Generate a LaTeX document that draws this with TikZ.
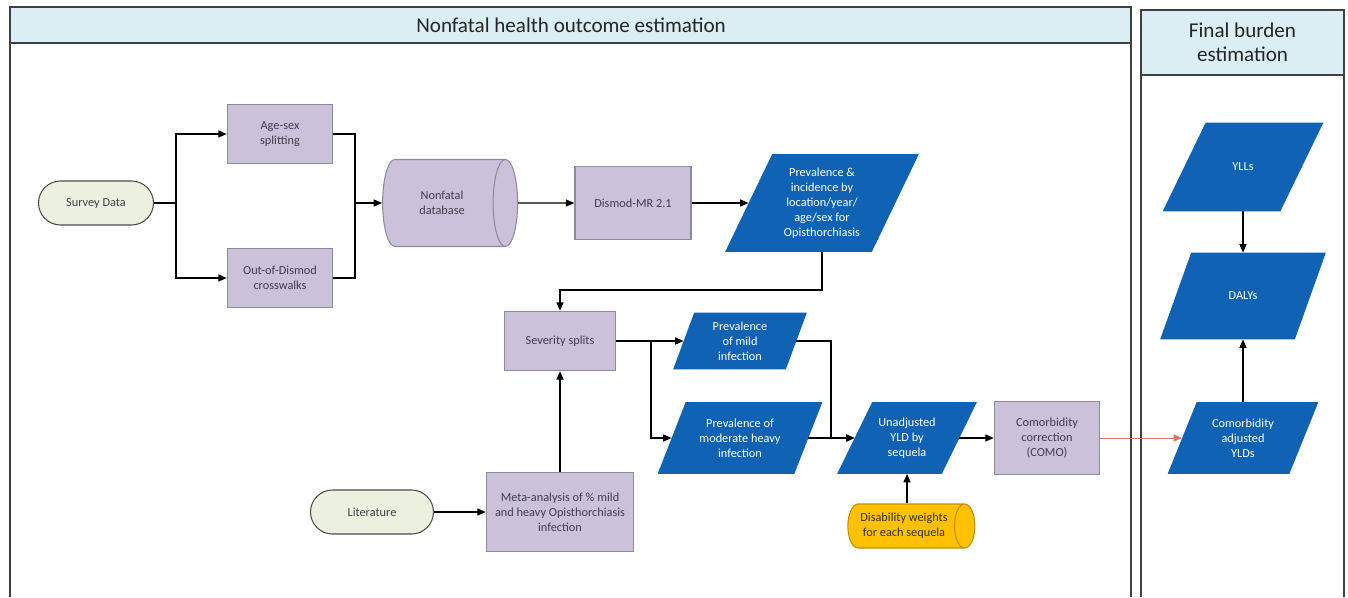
\documentclass[tikz,border=0pt]{standalone}
\usepackage{fontspec}
\setmainfont{Carlito}
\usetikzlibrary{arrows.meta,backgrounds,calc,positioning,shapes.geometric}
\definecolor{gbink}{HTML}{3F3F4C}
\definecolor{gbhead}{HTML}{DAEEF3}
\definecolor{gbpurple}{HTML}{CCC1DA}
\definecolor{gbgrey}{HTML}{8C8C99}
\definecolor{gbgreen}{HTML}{EBF1DE}
\definecolor{gbblue}{HTML}{0F62B4}
\definecolor{gbyellow}{HTML}{FFC000}
\definecolor{gbgold}{HTML}{BF9000}
\definecolor{gbred}{HTML}{D9776A}
\tikzset{
  gb text/.style={font=\fontsize{7}{8.6}\selectfont, text=gbink},
  gb panel/.style={draw=black!75, line width=0.8pt},
  gb head/.style={fill=gbhead, draw=black!75, line width=0.8pt},
  gb title/.style={font=\fontsize{12}{13.5}\selectfont, text=black!85, align=center},
  gb proc/.style={draw=gbgrey, line width=0.8pt, fill=gbpurple, align=center,
    inner sep=1pt},
  gb term/.style={draw=black!70, line width=0.6pt, fill=gbgreen, rounded corners=0.44cm,
    minimum height=0.88cm, align=center, inner sep=1pt},
  % parallelogram body: the slanted outline is filled in behind it
  gb data/.style={rectangle, text=white, align=center, inner sep=1pt},
  gb store/.style={cylinder, aspect=0.9, draw=gbgrey, line width=0.6pt, align=center,
    inner sep=1pt},
  gb line/.style={line width=0.8pt, draw=black},
  gb arrow/.style={gb line, -{Triangle[length=1.7mm,width=1.4mm]}},
  gb link/.style={-{Triangle[length=1.7mm,width=1.4mm]}, line width=0.5pt, draw=gbred}
}

\begin{document}
\begin{tikzpicture}[gb text, x=1cm, y=1cm]
  \useasboundingbox (0,0) rectangle (26.96,11.94);
  % swimlanes
  \filldraw[gb head] (0.2,11.08) rectangle (22.62,11.80);
  \draw[gb panel] (0.2,0) -- (0.2,11.80) -- (22.62,11.80) -- (22.62,0);
  \node[gb title] (laneA) at (11.42,11.44) {Nonfatal health outcome estimation};
  \filldraw[gb head] (22.82,10.44) rectangle (26.88,11.74);
  \draw[gb panel] (22.82,0) -- (22.82,11.74) -- (26.88,11.74) -- (26.88,0);
  \node[gb title] (laneB) at (24.85,11.09) {Final burden\\estimation};

  % nonfatal lane
  \node[gb term, minimum width=2.3cm] (survey) at (1.92,7.88) {Survey Data};
  \node[gb proc, minimum width=2.1cm, minimum height=1.18cm] (agesex) at (5.6,9.26) {Age-sex\\splitting};
  \node[gb proc, minimum width=2.1cm, minimum height=1.18cm] (xwalk) at (5.6,6.38) {Out-of-Dismod\\crosswalks};
  \node[gb store, fill=gbpurple, minimum height=2.7cm, minimum width=1.74cm] (nfdb) at (8.84,7.88) {Nonfatal\\database};
  \node[gb proc, minimum width=2.32cm, minimum height=1.46cm] (dismod) at (12.66,7.88) {Dismod-MR 2.1};
  \node[gb data, minimum width=2.92cm, minimum height=1.94cm] (previnc) at (16.44,7.88)
    {Prevalence \&\\incidence by\\location/year/\\age/sex for\\Opisthorchiasis};
  \node[gb proc, minimum width=2.22cm, minimum height=1.18cm] (severity) at (11.2,5.12) {Severity splits};
  \node[gb proc, minimum width=2.94cm, minimum height=1.58cm] (meta) at (11.2,1.70)
    {Meta-analysis of \% mild\\and heavy Opisthorchiasis\\infection};
  \node[gb term, minimum width=2.46cm] (lit) at (7.44,1.70) {Literature};
  \node[gb data, minimum width=2.24cm, minimum height=1.12cm] (mild) at (14.8,5.12) {Prevalence\\of mild\\infection};
  \node[gb data, minimum width=2.72cm, minimum height=1.42cm] (moderate) at (14.8,3.18)
    {Prevalence of\\moderate heavy\\infection};
  \node[gb data, minimum width=2.08cm, minimum height=1.42cm] (unadj) at (18.14,3.18) {Unadjusted\\YLD by\\sequela};
  \node[gb proc, minimum width=2.1cm, minimum height=1.46cm] (como) at (20.94,3.18) {Comorbidity\\correction\\(COMO)};
  \node[gb store, aspect=0.7, fill=gbyellow, draw=gbgold, text=black!80, minimum height=2.54cm,
    minimum width=0.88cm] (dw) at (18.08,1.42) {Disability weights\\for each sequela};

  % final burden lane
  \node[gb data, minimum width=2.34cm, minimum height=1.76cm] (ylls) at (24.86,8.6) {YLLs};
  \node[gb data, minimum width=2.68cm, minimum height=1.72cm] (dalys) at (24.86,6.02) {DALYs};
  \node[gb data, minimum width=2.42cm, minimum height=1.42cm] (ylds) at (24.86,3.18) {Comorbidity\\adjusted\\YLDs};

  % slanted outlines of the data nodes
  \begin{scope}[on background layer]
    \foreach \n/\s in {previnc/0.94, mild/0.42, moderate/0.56, unadj/0.70,
                       ylls/0.86, dalys/0.62, ylds/0.58}
      \fill[gbblue] ($(\n.north west)+(\s/2,0)$) -- ($(\n.north east)+(\s/2,0)$)
        -- ($(\n.south east)-(\s/2,0)$) -- ($(\n.south west)-(\s/2,0)$) -- cycle;
  \end{scope}

  % bends
  \coordinate (fork) at (3.52,7.88);
  \coordinate (merge) at (7.10,7.88);
  \coordinate (drop) at (11.2,6.14);
  \coordinate (sevfork) at (13.02,5.12);
  \coordinate (join) at (16.62,3.18);

  \draw[gb arrow] (survey.east) -- (fork) |- (agesex.west);
  \draw[gb arrow] (fork) |- (xwalk.west);
  \draw[gb arrow] (agesex.east) -| (merge) -- (nfdb.west);
  \draw[gb line] (xwalk.east) -| (merge);
  \draw[gb arrow] (nfdb.east) -- (dismod.west);
  \draw[gb arrow] (dismod.east) -- (previnc.west);
  \draw[gb arrow] (previnc.south) |- (drop) -- (severity.north);
  \draw[gb arrow] (lit.east) -- (meta.west);
  \draw[gb arrow] (meta.north) -- (severity.south);
  \draw[gb arrow] (severity.east) -- (sevfork) -- (mild.west);
  \draw[gb arrow] (sevfork) |- (moderate.west);
  \draw[gb arrow] (mild.east) -| (join) -- (unadj.west);
  \draw[gb arrow] (moderate.east) -- (unadj.west);
  \draw[gb arrow] (unadj.south |- dw.north) -- (unadj.south);
  \draw[gb arrow] (unadj.east) -- (como.west);
  \draw[gb link] (como.east) -- (ylds.west);
  \draw[gb arrow] (ylds.north) -- (dalys.south);
  \draw[gb arrow] (ylls.south) -- (dalys.north);
\end{tikzpicture}
\end{document}
